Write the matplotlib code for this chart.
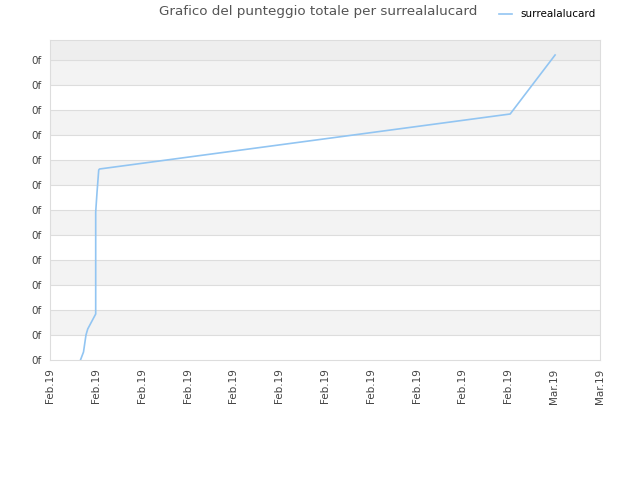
import numpy as np
import matplotlib.pyplot as plt

# data (x in day units from left edge, y in score units)
days = [0.665, 0.731, 0.785, 0.823, 0.997, 0.997, 1.025, 1.063, 1.08, 10.04, 11.02]
scores = [0.0, 0.32, 1.0, 1.24, 1.84, 5.92, 6.68, 7.6, 7.64, 9.84, 12.2]
tick_labels = ["Feb.19"] * 11 + ["Mar.19"] * 2
y_labels = ["0f"] * 13

fig = plt.figure(figsize=(6.4, 4.8), dpi=100)
ax = fig.add_axes([50 / 640, 120 / 480, 550 / 640, 320 / 480])

ax.set_xlim(0, 12)
ax.set_ylim(0, 12.8)

# alternating bands
for i in range(12):
    if i % 2 == 0:
        continue
    ax.axhspan(i, i + 1, color="#f3f3f3", zorder=0, lw=0)
ax.axhspan(12, 12.8, color="#eeeeee", zorder=0, lw=0)
for i in range(1, 13):
    ax.axhline(i, color="#dddddd", lw=0.8, zorder=1)

ax.plot(days, scores, color="#92c5f2", lw=1.2, label="surrealalucard", zorder=3)

ax.set_xticks(np.arange(13))
ax.set_xticklabels(tick_labels, rotation=90, fontsize=7.5, color="#444444")
ax.set_yticks(np.arange(13))
ax.set_yticklabels(y_labels, fontsize=7.5, color="#444444")
ax.tick_params(length=0, pad=6)

for s in ax.spines.values():
    s.set_color("#dddddd")

fig.text(0.497, 0.99, "Grafico del punteggio totale per surrealalucard",
         ha="center", va="top", fontsize=9.7, color="#555555")
fig.legend(loc="upper right", bbox_to_anchor=(0.945, 1.0), frameon=False,
           fontsize=7.5, handlelength=1.2)

fig.savefig("out.png")
